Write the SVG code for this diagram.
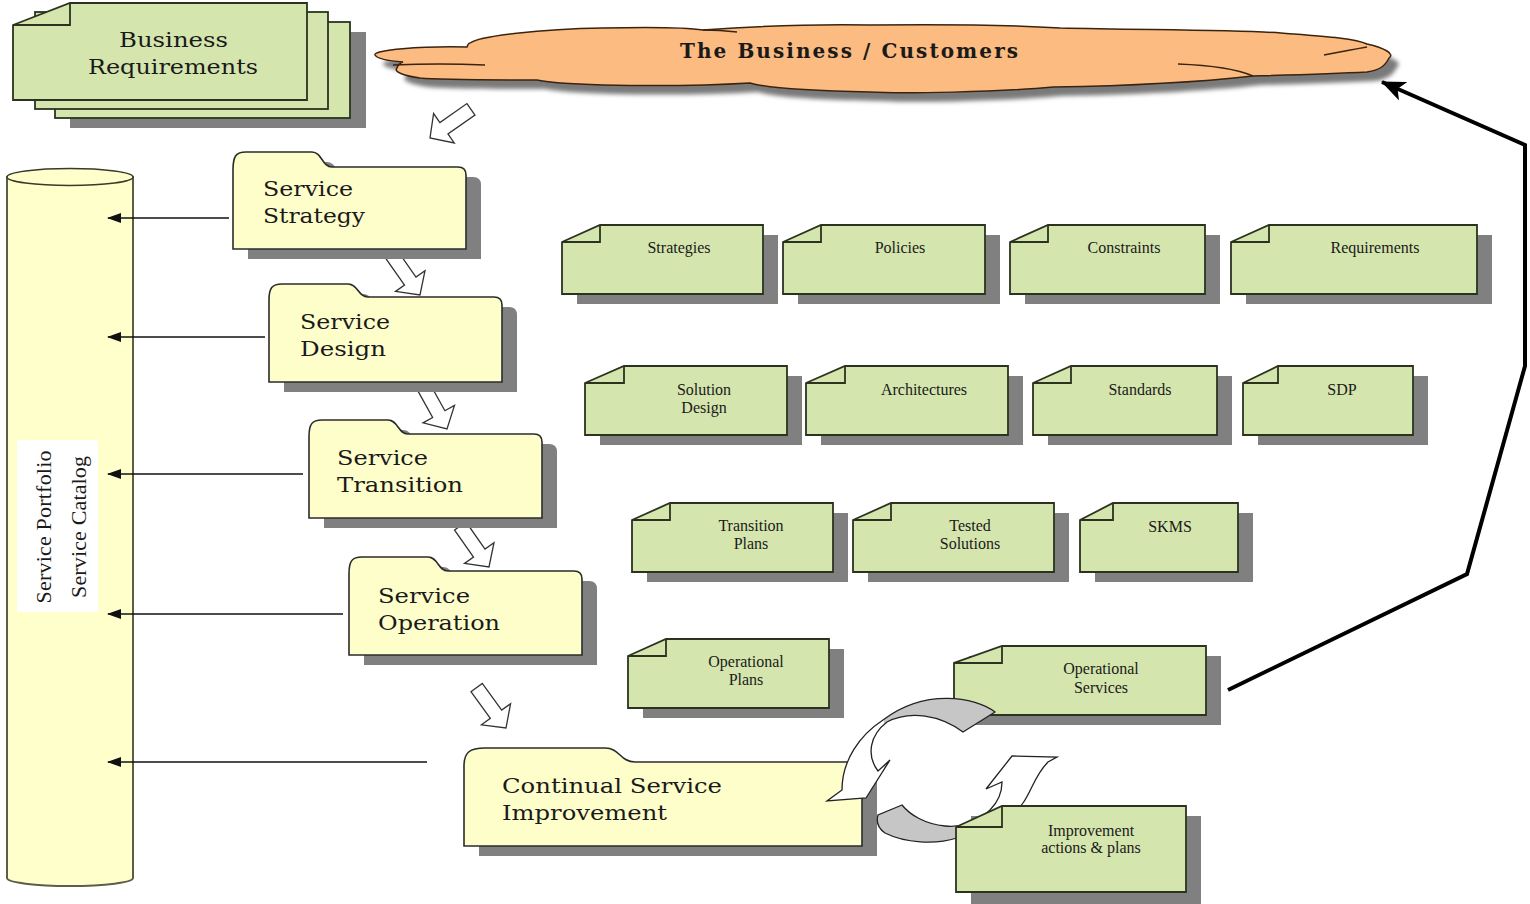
<svg xmlns="http://www.w3.org/2000/svg" width="1530" height="904" viewBox="0 0 1530 904">
<style>
.shadow{fill:#808080}
.doc{fill:#d5e5ae;stroke:#2b3320;stroke-width:1.8}
.fold{fill:none;stroke:#2b3320;stroke-width:1.8}
.folder{fill:#fefeca;stroke:#2b2b2b;stroke-width:1.6}
.lbl{font-family:"Liberation Serif","DejaVu Serif",serif;font-size:16px;fill:#1a1a1a;text-anchor:middle}
.flbl{font-family:"DejaVu Serif","Liberation Serif",serif;font-size:20px;fill:#1a1a1a}
.hollow{fill:#fff;stroke:#333;stroke-width:1.3;stroke-linejoin:miter}
.conn{stroke:#111;stroke-width:1.5;fill:none}
.cyc{stroke:#222;stroke-width:1.3}
</style>
<defs>
<marker id="ah" viewBox="0 0 14 10" refX="13" refY="5" markerWidth="14" markerHeight="10" markerUnits="userSpaceOnUse" orient="auto">
<path d="M0,0 L14,5 L0,10 Z" fill="#111"/>
</marker>
<marker id="bigah" viewBox="0 0 24 20" refX="23" refY="10" markerWidth="24" markerHeight="20" markerUnits="userSpaceOnUse" orient="auto">
<path d="M0,0 L24,10 L0,20 L6,10 Z" fill="#000"/>
</marker>
<path id="harrow" d="M-7,-50 L7,-50 L7,-17 L18,-17 L0,0 L-18,-17 L-7,-17 Z"/>
<linearGradient id="gTop" gradientUnits="userSpaceOnUse" x1="820" y1="0" x2="1000" y2="0">
<stop offset="0" stop-color="#fff"/><stop offset="0.355" stop-color="#fff"/><stop offset="0.356" stop-color="#c6c6c6"/><stop offset="1" stop-color="#c6c6c6"/>
</linearGradient>
<linearGradient id="gBot" gradientUnits="userSpaceOnUse" x1="870" y1="0" x2="1060" y2="0">
<stop offset="0" stop-color="#c6c6c6"/><stop offset="0.46" stop-color="#c6c6c6"/><stop offset="0.461" stop-color="#fff"/><stop offset="1" stop-color="#fff"/>
</linearGradient>
<filter id="blur" x="-5%" y="-20%" width="110%" height="140%"><feGaussianBlur stdDeviation="2"/></filter>
</defs>
<rect width="1530" height="904" fill="#fff"/>

<g id="cloud">
<path transform="translate(8,9)" filter="url(#blur)" fill="#7a7a7a" d="M375,55 C373,50 420,46 467,47 C468,44 469,43 470,43 C480,36 540,29 603,28 C650,27 690,28 703,30 C760,26 820,24 870,25 C950,24 1010,25 1060,28 C1150,30 1240,30 1281,33 C1320,36 1355,38 1367,44 C1385,48 1395,54 1389,58 C1385,66 1380,70 1367,72 C1330,74 1290,75 1253,76 C1200,82 1120,86 1053,87 C1000,92 900,94 870,92 C780,90 760,86 750,83 C700,86 650,86 603,85 C570,84 545,82 537,80 C500,80 440,80 420,78 C405,76 393,72 397,68 C398,65 400,63 403,62 C390,61 377,59 375,55 Z"/>
<path fill="#fcbb80" stroke="#3a2410" stroke-width="1.5" d="M375,55 C373,50 420,46 467,47 C468,44 469,43 470,43 C480,36 540,29 603,28 C650,27 690,28 703,30 C760,26 820,24 870,25 C950,24 1010,25 1060,28 C1150,30 1240,30 1281,33 C1320,36 1355,38 1367,44 C1385,48 1395,54 1389,58 C1385,66 1380,70 1367,72 C1330,74 1290,75 1253,76 C1200,82 1120,86 1053,87 C1000,92 900,94 870,92 C780,90 760,86 750,83 C700,86 650,86 603,85 C570,84 545,82 537,80 C500,80 440,80 420,78 C405,76 393,72 397,68 C398,65 400,63 403,62 C390,61 377,59 375,55 Z"/>
<path fill="none" stroke="#3a2410" stroke-width="1.5" d="M393,65 Q440,63 485,65 M703,30 Q720,30 737,32 M1178,64 Q1230,66 1253,76 M1324,55 Q1350,50 1367,47"/>
<text x="680" y="58" textLength="338" lengthAdjust="spacing" font-family="DejaVu Serif, Liberation Serif, serif" font-weight="bold" font-size="20" fill="#1a1a1a">The Business / Customers</text>
</g>

<g id="business-requirements">
<rect class="shadow" x="70" y="32" width="296" height="96"/>
<rect class="doc" x="55" y="22" width="295" height="96"/>
<rect class="doc" x="35" y="12" width="293" height="97"/>
<path class="doc" d="M70,3 H307 V100 H13 V25 Z"/>
<path class="fold" d="M13,25 H70 V3"/>
<text class="flbl" x="119" y="47" textLength="109" lengthAdjust="spacingAndGlyphs">Business</text>
<text class="flbl" x="88" y="74" textLength="170" lengthAdjust="spacingAndGlyphs">Requirements</text>
</g>

<g id="service-portfolio">
<path d="M7,177 V878 A63,8 0 0 0 133,878 V177 Z" fill="#ffffcc" stroke="#5e5e48" stroke-width="2"/>
<ellipse cx="70" cy="177" rx="63" ry="8.5" fill="#ffffcc" stroke="#3a3a2a" stroke-width="1.6"/>
<rect x="17" y="440" width="81" height="172" fill="#fff"/>
<text transform="rotate(-90 51 527)" x="51" y="527" text-anchor="middle" font-family="Liberation Serif, serif" font-size="22" fill="#1a1a1a" textLength="153" lengthAdjust="spacing">Service Portfolio</text>
<text transform="rotate(-90 86 527)" x="86" y="527" text-anchor="middle" font-family="Liberation Serif, serif" font-size="22" fill="#1a1a1a" textLength="142" lengthAdjust="spacing">Service Catalog</text>
</g>

<g id="connectors">
<line class="conn" x1="229" y1="218" x2="108" y2="218" marker-end="url(#ah)"/>
<line class="conn" x1="265" y1="337" x2="108" y2="337" marker-end="url(#ah)"/>
<line class="conn" x1="303" y1="474" x2="108" y2="474" marker-end="url(#ah)"/>
<line class="conn" x1="343" y1="614" x2="108" y2="614" marker-end="url(#ah)"/>
<line class="conn" x1="427" y1="762" x2="108" y2="762" marker-end="url(#ah)"/>
<use href="#harrow" class="hollow" transform="translate(430,138) rotate(55)"/>
<use href="#harrow" class="hollow" transform="translate(420,295) rotate(-35)"/>
<use href="#harrow" class="hollow" transform="translate(447,429) rotate(-29)"/>
<use href="#harrow" class="hollow" transform="translate(489,567) rotate(-35)"/>
<use href="#harrow" class="hollow" transform="translate(506,728) rotate(-36)"/>
<polyline points="1228,690 1467,574 1525,366 1525,145 1382,82" fill="none" stroke="#000" stroke-width="4" stroke-linejoin="miter" marker-end="url(#bigah)"/>
</g>

<g id="service-strategy">
<path class="shadow" transform="translate(15,10)" d="M233,249 V170 C233,156 236,152 246,152 H312 C322,152 322,167 332,167 H458 Q466,167 466,175 V249 Z"/>
<path class="folder" d="M233,249 V170 C233,156 236,152 246,152 H312 C322,152 322,167 332,167 H458 Q466,167 466,175 V249 Z"/>
<text class="flbl" x="263" y="196" textLength="90" lengthAdjust="spacingAndGlyphs">Service</text>
<text class="flbl" x="263" y="223" textLength="102" lengthAdjust="spacingAndGlyphs">Strategy</text>
</g>

<g id="service-design">
<path class="shadow" transform="translate(15,10)" d="M269,382 V300 C269,288 272,284 282,284 H348 C358,284 358,297 368,297 H494 Q502,297 502,305 V382 Z"/>
<path class="folder" d="M269,382 V300 C269,288 272,284 282,284 H348 C358,284 358,297 368,297 H494 Q502,297 502,305 V382 Z"/>
<text class="flbl" x="300" y="329" textLength="90" lengthAdjust="spacingAndGlyphs">Service</text>
<text class="flbl" x="300" y="356" textLength="86" lengthAdjust="spacingAndGlyphs">Design</text>
</g>

<g id="service-transition">
<path class="shadow" transform="translate(15,10)" d="M309,518 V437 C309,424 312,420 322,420 H388 C398,420 398,434 408,434 H534 Q542,434 542,442 V518 Z"/>
<path class="folder" d="M309,518 V437 C309,424 312,420 322,420 H388 C398,420 398,434 408,434 H534 Q542,434 542,442 V518 Z"/>
<text class="flbl" x="337" y="465" textLength="91" lengthAdjust="spacingAndGlyphs">Service</text>
<text class="flbl" x="337" y="492" textLength="126" lengthAdjust="spacingAndGlyphs">Transition</text>
</g>

<g id="service-operation">
<path class="shadow" transform="translate(15,10)" d="M349,655 V574 C349,561 352,557 362,557 H428 C438,557 438,571 448,571 H574 Q582,571 582,579 V655 Z"/>
<path class="folder" d="M349,655 V574 C349,561 352,557 362,557 H428 C438,557 438,571 448,571 H574 Q582,571 582,579 V655 Z"/>
<text class="flbl" x="378" y="603" textLength="92" lengthAdjust="spacingAndGlyphs">Service</text>
<text class="flbl" x="378" y="630" textLength="122" lengthAdjust="spacingAndGlyphs">Operation</text>
</g>

<g id="strategies">
<rect class="shadow" x="577" y="235" width="201" height="69"/>
<path class="doc" d="M600,225 H763 V294 H562 V242 Z"/><path class="fold" d="M562,242 H600 V225"/>
<text class="lbl" x="679" y="253">Strategies</text>
</g>
<g id="policies">
<rect class="shadow" x="798" y="235" width="202" height="69"/>
<path class="doc" d="M821,225 H985 V294 H783 V242 Z"/><path class="fold" d="M783,242 H821 V225"/>
<text class="lbl" x="900" y="253">Policies</text>
</g>
<g id="constraints">
<rect class="shadow" x="1025" y="235" width="195" height="69"/>
<path class="doc" d="M1048,225 H1205 V294 H1010 V242 Z"/><path class="fold" d="M1010,242 H1048 V225"/>
<text class="lbl" x="1124" y="253">Constraints</text>
</g>
<g id="requirements">
<rect class="shadow" x="1246" y="235" width="246" height="69"/>
<path class="doc" d="M1269,225 H1477 V294 H1231 V242 Z"/><path class="fold" d="M1231,242 H1269 V225"/>
<text class="lbl" x="1375" y="253">Requirements</text>
</g>

<g id="solution-design">
<rect class="shadow" x="600" y="376" width="202" height="69"/>
<path class="doc" d="M624,366 H787 V435 H585 V383 Z"/><path class="fold" d="M585,383 H624 V366"/>
<text class="lbl" x="704" y="395">Solution</text>
<text class="lbl" x="704" y="413">Design</text>
</g>
<g id="architectures">
<rect class="shadow" x="821" y="376" width="202" height="69"/>
<path class="doc" d="M845,366 H1008 V435 H806 V383 Z"/><path class="fold" d="M806,383 H845 V366"/>
<text class="lbl" x="924" y="395">Architectures</text>
</g>
<g id="standards">
<rect class="shadow" x="1048" y="376" width="184" height="69"/>
<path class="doc" d="M1071,366 H1217 V435 H1033 V383 Z"/><path class="fold" d="M1033,383 H1071 V366"/>
<text class="lbl" x="1140" y="395">Standards</text>
</g>
<g id="sdp">
<rect class="shadow" x="1258" y="376" width="170" height="69"/>
<path class="doc" d="M1278,366 H1413 V435 H1243 V383 Z"/><path class="fold" d="M1243,383 H1278 V366"/>
<text class="lbl" x="1342" y="395">SDP</text>
</g>

<g id="transition-plans">
<rect class="shadow" x="647" y="513" width="201" height="69"/>
<path class="doc" d="M670,503 H833 V572 H632 V520 Z"/><path class="fold" d="M632,520 H670 V503"/>
<text class="lbl" x="751" y="531">Transition</text>
<text class="lbl" x="751" y="549">Plans</text>
</g>
<g id="tested-solutions">
<rect class="shadow" x="868" y="513" width="201" height="69"/>
<path class="doc" d="M891,503 H1054 V572 H853 V520 Z"/><path class="fold" d="M853,520 H891 V503"/>
<text class="lbl" x="970" y="531">Tested</text>
<text class="lbl" x="970" y="549">Solutions</text>
</g>
<g id="skms">
<rect class="shadow" x="1095" y="513" width="158" height="69"/>
<path class="doc" d="M1113,503 H1238 V572 H1080 V520 Z"/><path class="fold" d="M1080,520 H1113 V503"/>
<text class="lbl" x="1170" y="532">SKMS</text>
</g>

<g id="operational-plans">
<rect class="shadow" x="643" y="649" width="201" height="69"/>
<path class="doc" d="M666,639 H829 V708 H628 V656 Z"/><path class="fold" d="M628,656 H666 V639"/>
<text class="lbl" x="746" y="667">Operational</text>
<text class="lbl" x="746" y="685">Plans</text>
</g>
<g id="operational-services">
<rect class="shadow" x="969" y="656" width="252" height="69"/>
<path class="doc" d="M1002,646 H1206 V715 H954 V663 Z"/><path class="fold" d="M954,663 H1002 V646"/>
<text class="lbl" x="1101" y="674">Operational</text>
<text class="lbl" x="1101" y="693">Services</text>
</g>

<g id="continual-service-improvement">
<path class="shadow" transform="translate(15,10)" d="M464,846 V766 C464,752 470,748 485,748 H605 C620,748 620,762 635,762 H854 Q862,762 862,770 V846 Z"/>
<path class="folder" d="M464,846 V766 C464,752 470,748 485,748 H605 C620,748 620,762 635,762 H854 Q862,762 862,770 V846 Z"/>
<text class="flbl" x="502" y="793" textLength="220" lengthAdjust="spacingAndGlyphs">Continual Service</text>
<text class="flbl" x="502" y="820" textLength="165" lengthAdjust="spacingAndGlyphs">Improvement</text>
</g>

<g id="cycle">
<path class="cyc" fill="url(#gTop)" d="M995,712 C975,697 925,688 883,720 C860,735 842,760 842,790 L827,801 L866,798 L890,760 L878,771 C866,755 870,735 887,722 C910,710 940,715 963,732 Z"/>
<path class="cyc" fill="url(#gBot)" d="M902,805 L878,815 C876,822 878,828 885,833 C905,843 935,845 957,838 C990,830 1015,815 1023,803 C1032,790 1035,775 1048,762 L1057,757 L1012,756 L986,789 L1002,782 C1002,790 1000,800 990,810 C978,822 960,828 945,826 C925,824 910,815 902,805 Z"/>
</g>

<g id="improvement-actions">
<rect class="shadow" x="971" y="816" width="230" height="88"/>
<path class="doc" d="M1002,806 H1186 V892 H956 V827 Z"/><path class="fold" d="M956,827 H1002 V806"/>
<text class="lbl" x="1091" y="836">Improvement</text>
<text class="lbl" x="1091" y="853">actions &amp; plans</text>
</g>
</svg>
